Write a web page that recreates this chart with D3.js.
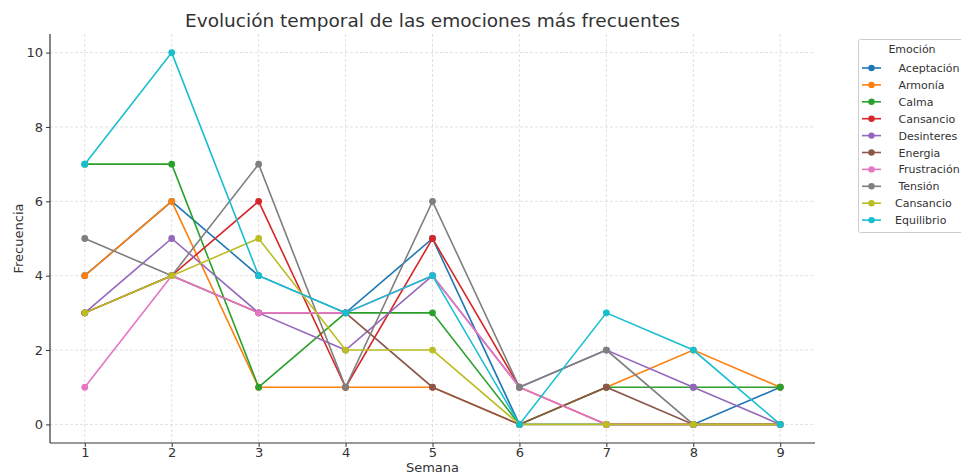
<!DOCTYPE html>
<html><head><meta charset="utf-8">
<script src="https://cdn.jsdelivr.net/npm/d3@7"></script>
<style>
body{margin:0;background:#fff;}
svg{font-family:"DejaVu Sans",sans-serif;}
</style></head>
<body><svg id="c" width="961" height="476"></svg>
<script>
const weeks = [1,2,3,4,5,6,7,8,9];
const labels = [" Aceptación"," Armonía"," Calma"," Cansancio"," Desinteres"," Energia"," Frustración"," Tensión","Cansancio","Equilibrio"];
const colors = ["#1f77b4","#ff7f0e","#2ca02c","#d62728","#9467bd","#8c564b","#e377c2","#7f7f7f","#bcbd22","#17becf"];
const aceptacion = [4,6,4,3,5,0,0,0,1];
const armonia = [4,6,1,1,1,0,1,2,1];
const calma = [7,7,1,3,3,0,1,1,1];
const cansancio = [3,4,6,1,5,1,0,0,0];
const desinteres = [3,5,3,2,4,1,2,1,0];
const energia = [3,4,3,3,1,0,1,0,0];
const frustracion = [1,4,3,3,4,1,0,0,0];
const tension = [5,4,7,1,6,1,2,0,0];
const cansancio2 = [3,4,5,2,2,0,0,0,0];
const equilibrio = [7,10,4,3,4,0,3,2,0];
const series = [aceptacion,armonia,calma,cansancio,desinteres,energia,frustracion,tension,cansancio2,equilibrio];
const yTicks = [0,2,4,6,8,10];

const svg = d3.select("#c");
const L=50,R=815,T=34,B=443;
const x = d3.scaleLinear().domain([0.6,9.4]).range([L,R]);
const y = d3.scaleLinear().domain([-0.5,10.5]).range([B,T]);

// grid
const g = svg.append("g");
g.selectAll(".gx").data(weeks).enter().append("line")
 .attr("x1",d=>x(d)).attr("x2",d=>x(d)).attr("y1",T).attr("y2",B)
 .attr("stroke","#d9d9d9").attr("stroke-width",0.8).attr("stroke-dasharray","3,2");
g.selectAll(".gy").data(yTicks).enter().append("line")
 .attr("y1",d=>y(d)).attr("y2",d=>y(d)).attr("x1",L).attr("x2",R)
 .attr("stroke","#d9d9d9").attr("stroke-width",0.8).attr("stroke-dasharray","3,2");

// axes
const xa = svg.append("g").attr("transform",`translate(0,${B})`)
 .call(d3.axisBottom(x).tickValues(weeks).tickFormat(d3.format("d")).tickSizeOuter(0).tickSize(4).tickPadding(1));
const ya = svg.append("g").attr("transform",`translate(${L},0)`)
 .call(d3.axisLeft(y).tickValues(yTicks).tickFormat(d3.format("d")).tickSizeOuter(0).tickSize(4).tickPadding(3));
[xa,ya].forEach(a=>{
  a.select(".domain").attr("stroke","#333").attr("stroke-width",1.2);
  a.selectAll(".tick line").attr("stroke","#333");
  a.selectAll(".tick text").attr("fill","#333").attr("font-size",13).attr("font-family","DejaVu Sans");
});
ya.select(".domain").attr("d",`M0,${T}V${B}`);
xa.select(".domain").attr("d",`M${L},0H${R}`);

// lines
const line = d3.line().x((d,i)=>x(weeks[i])).y(d=>y(d));
series.forEach((s,k)=>{
  const sg = svg.append("g");
  sg.append("path").datum(s).attr("d",line).attr("fill","none")
    .attr("stroke",colors[k]).attr("stroke-width",1.6);
  sg.selectAll("circle").data(s).enter().append("circle")
    .attr("cx",(d,i)=>x(weeks[i])).attr("cy",d=>y(d)).attr("r",3.4).attr("fill",colors[k]);
});

// titles
svg.append("text").attr("x",(L+R)/2).attr("y",27).attr("text-anchor","middle")
 .attr("font-size",18.5).attr("fill","#333").text("Evolución temporal de las emociones más frecuentes");
svg.append("text").attr("x",(L+R)/2).attr("y",472).attr("text-anchor","middle")
 .attr("font-size",13).attr("fill","#333").text("Semana");
svg.append("text").attr("transform",`translate(23,${(T+B)/2}) rotate(-90)`).attr("text-anchor","middle")
 .attr("font-size",13).attr("fill","#333").text("Frecuencia");

// legend
const lg = svg.append("g");
lg.append("rect").attr("x",858.5).attr("y",39.5).attr("width",110).attr("height",193)
 .attr("fill","#fff").attr("stroke","#ccc").attr("rx",2);
lg.append("text").attr("x",912).attr("y",53).attr("text-anchor","middle")
 .attr("font-size",11).attr("fill","#333").text("Emoción");
labels.forEach((lab,k)=>{
  const yy = 68 + k*16.9;
  lg.append("line").attr("x1",862).attr("x2",881).attr("y1",yy).attr("y2",yy)
    .attr("stroke",colors[k]).attr("stroke-width",1.6);
  lg.append("circle").attr("cx",871.5).attr("cy",yy).attr("r",3.2).attr("fill",colors[k]);
  lg.append("text").attr("x",895).attr("y",yy+4).attr("font-size",11).attr("fill","#333")
    .style("white-space","pre").text(lab);
});
</script></body></html>
